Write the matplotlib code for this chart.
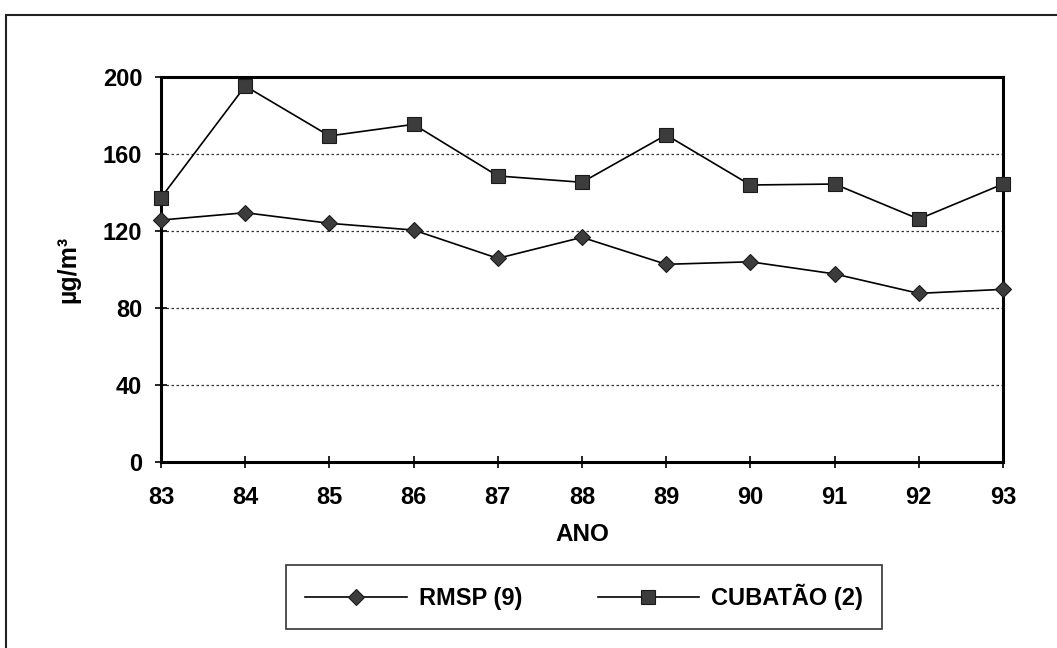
import matplotlib
matplotlib.use("Agg")
import matplotlib.pyplot as plt
from matplotlib.patches import Rectangle

plt.rcParams['font.family'] = ['Liberation Sans', 'DejaVu Sans']
plt.rcParams['font.weight'] = 'bold'

anos = ['83', '84', '85', '86', '87', '88', '89', '90', '91', '92', '93']
rmsp = [125.7, 129.5, 124.0, 120.5, 105.8, 116.7, 102.7, 104.0, 97.7, 87.6, 89.7]
cubatao = [137.3, 195.3, 169.4, 175.4, 148.6, 145.3, 169.9, 143.9, 144.4, 126.2, 144.4]
yticks = [0, 40, 80, 120, 160, 200]

fig = plt.figure(figsize=(10.57, 6.48), dpi=100)
ax = fig.add_axes([161/1057, 1-462/648, (1003-161)/1057, (462-77)/648])

x = list(range(len(anos)))
ax.plot(x, rmsp, color='black', lw=1.2, marker='D', ms=8, mfc='#3c3c3c', mec='#1a1a1a', mew=0.8,
        label='RMSP (9)', zorder=3, clip_on=False)
ax.plot(x, cubatao, color='black', lw=1.2, marker='s', ms=10, mfc='#3c3c3c', mec='#1a1a1a', mew=0.8,
        label='CUBATÃO (2)', zorder=3, clip_on=False)

ax.set_xlim(0, len(anos) - 1)
ax.set_ylim(0, 200)
ax.set_xticks(x)
ax.set_xticklabels(anos)
ax.set_yticks(yticks)
for v in yticks[1:-1]:
    ax.axhline(v, color='#333333', lw=0.9, ls=(0, (2, 2)), zorder=1)

for s in ax.spines.values():
    s.set_linewidth(2.2)
    s.set_color('black')
ax.tick_params(axis='both', direction='inout', length=9, width=1.2, labelsize=17)
ax.tick_params(axis='x', pad=13)
ax.tick_params(axis='y', pad=9)
for lab in ax.get_xticklabels() + ax.get_yticklabels():
    lab.set_fontweight('bold')

ax.set_ylabel('µg/m³', fontsize=18, fontweight='bold', labelpad=16)
ax.set_xlabel('ANO', fontsize=17.5, fontweight='bold', labelpad=10)

leg = fig.legend(loc='center', bbox_to_anchor=(584/1057, 1-597/648),
                 ncol=2, frameon=True, fancybox=False, edgecolor='black',
                 handlelength=4.3, handletextpad=0.5, borderpad=0.8, columnspacing=3.2,
                 prop={'size': 17, 'weight': 'bold'}, borderaxespad=0)
leg.get_frame().set_linewidth(1.2)

fig.patches.append(Rectangle((6/1057, -0.5), 2.0, 0.5 + 1 - 15/648, transform=fig.transFigure,
                             fill=False, edgecolor='#222222', lw=1.5))

fig.savefig('out.png', dpi=100)
